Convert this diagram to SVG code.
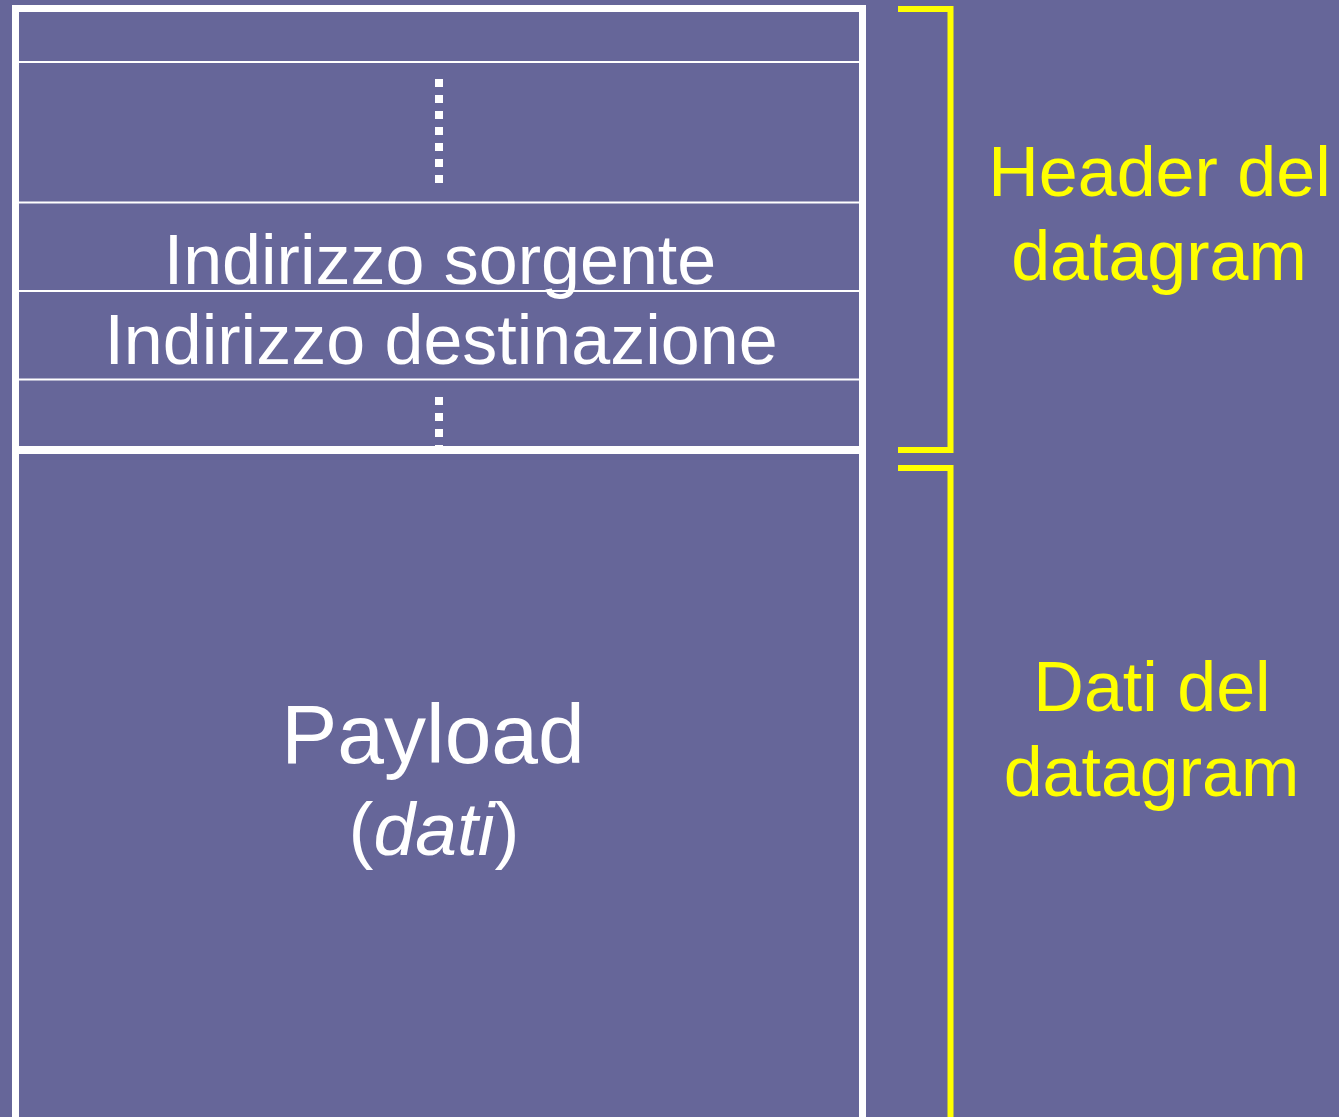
<svg xmlns="http://www.w3.org/2000/svg" width="1339" height="1117" viewBox="0 0 1339 1117">
<style>
.w{fill:none;stroke:#ffffff}
.thin{stroke:#ffffff;stroke-width:2}
.dot{fill:#ffffff}
.br{fill:none;stroke:#ffff00;stroke-width:6}
.t{font-family:"Liberation Sans",Arial,sans-serif;font-size:70px;text-anchor:middle}
.wt{fill:#ffffff}
.yt{fill:#ffff00}
</style>
<rect x="0" y="0" width="1339" height="1117" fill="#666699"/>
<g id="header">
<rect class="w" x="15.5" y="8.5" width="847" height="441.5" stroke-width="7"/>
<line class="thin" x1="19" y1="62" x2="859" y2="62"/>
<line class="thin" x1="19" y1="202.5" x2="859" y2="202.5"/>
<line class="thin" x1="19" y1="291" x2="859" y2="291"/>
<line class="thin" x1="19" y1="379.5" x2="859" y2="379.5"/>
<g id="dots1">
<rect class="dot" x="435" y="79" width="8" height="8"/>
<rect class="dot" x="435" y="95" width="8" height="8"/>
<rect class="dot" x="435" y="111" width="8" height="8"/>
<rect class="dot" x="435" y="127" width="8" height="8"/>
<rect class="dot" x="435" y="143" width="8" height="8"/>
<rect class="dot" x="435" y="159" width="8" height="8"/>
<rect class="dot" x="435" y="175" width="8" height="8"/>
</g>
<g id="dots2">
<rect class="dot" x="435" y="397" width="8" height="8"/>
<rect class="dot" x="435" y="413" width="8" height="8"/>
<rect class="dot" x="435" y="429" width="8" height="8"/>
<rect class="dot" x="435" y="445" width="8" height="8"/>
</g>
<text class="t wt" x="440" y="284">Indirizzo sorgente</text>
<text class="t wt" x="441" y="364">Indirizzo destinazione</text>
</g>
<g id="payload">
<rect class="w" x="15.5" y="450" width="847" height="700" stroke-width="7"/>
<line stroke="#ffffff" stroke-width="8" x1="12" y1="450" x2="866" y2="450"/>
<text class="t wt" x="433" y="763" style="font-size:84px">Payload</text>
<text class="t wt" x="434" y="855" style="font-size:75px">(<tspan font-style="italic">dati</tspan>)</text>
</g>
<g id="brackets">
<polyline class="br" points="898,9 950.5,9 950.5,450 898,450"/>
<polyline class="br" points="898,468 950.5,468 950.5,1130"/>
</g>
<g id="labels">
<text class="t yt" x="1159.5" y="196">Header del</text>
<text class="t yt" x="1159" y="280">datagram</text>
<text class="t yt" x="1152" y="711">Dati del</text>
<text class="t yt" x="1151.5" y="796">datagram</text>
</g>
</svg>
